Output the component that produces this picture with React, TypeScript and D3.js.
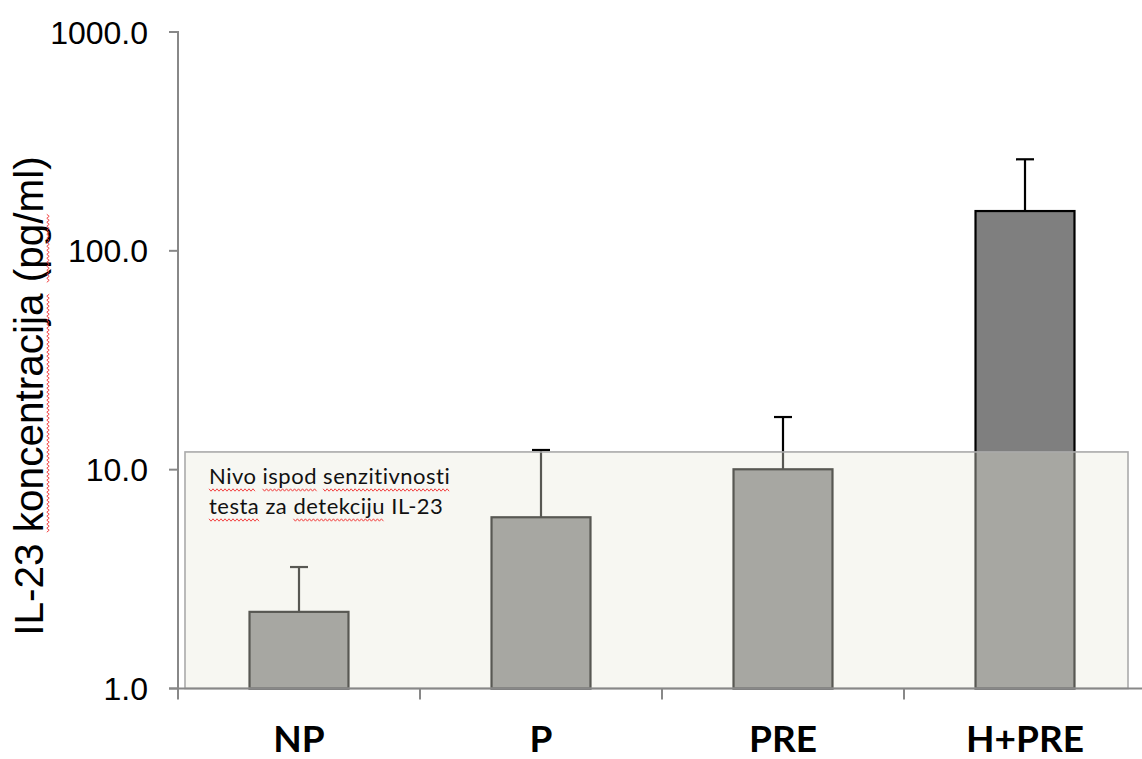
import React, { useEffect, useRef } from "react";
import * as d3 from "d3";

// IL-23 concentration per group (pg/ml), mean and upper error value
const categories = ["NP", "P", "PRE", "H+PRE"];
const means = [2.24, 6.06, 10.04, 152];
const upperErrors = [3.59, 12.3, 17.4, 262];
const yTicks = [1, 10, 100, 1000];
const detectionLimit = 12.05;
const yLabel = "IL-23 koncentracija (pg/ml)";
const noteLines = ["Nivo ispod senzitivnosti", "testa za detekciju IL-23"];

const W = 1142;
const H = 759;

function squiggle(x1: number, x2: number, y: number) {
  const pts: [number, number][] = [];
  const step = 2;
  let up = true;
  for (let x = x1; x <= x2; x += step) {
    pts.push([x, y + (up ? -1.2 : 1.2)]);
    up = !up;
  }
  return d3.line()(pts) || "";
}

export default function App() {
  const ref = useRef<SVGSVGElement>(null);

  useEffect(() => {
    const svg = d3.select(ref.current);
    svg.selectAll("*").remove();

    const axisLeft = 178;
    const x = d3
      .scaleBand<string>()
      .domain(categories)
      .range([axisLeft, 1146])
      .paddingInner(0.591)
      .paddingOuter(0.2955);
    const y = d3.scaleLog().domain([1, 1000]).range([688.5, 32]);
    const step = x.step();
    const base = y(1);

    // bars
    svg
      .append("g")
      .selectAll("rect")
      .data(categories)
      .join("rect")
      .attr("x", (d) => x(d)!)
      .attr("width", x.bandwidth())
      .attr("y", (_, i) => y(means[i]))
      .attr("height", (_, i) => base - y(means[i]))
      .attr("fill", "#7f7f7f")
      .attr("stroke", "#000")
      .attr("stroke-width", 2.2);

    // upper error whiskers
    const err = svg.append("g").attr("stroke", "#000").attr("stroke-width", 2.2);
    categories.forEach((c, i) => {
      const cx = x(c)! + x.bandwidth() / 2;
      err
        .append("line")
        .attr("x1", cx)
        .attr("x2", cx)
        .attr("y1", y(means[i]))
        .attr("y2", y(upperErrors[i]));
      err
        .append("line")
        .attr("x1", cx - 9)
        .attr("x2", cx + 9)
        .attr("y1", y(upperErrors[i]))
        .attr("y2", y(upperErrors[i]));
    });

    // translucent band for the detection limit
    const boxTop = y(detectionLimit);
    svg
      .append("rect")
      .attr("x", 185)
      .attr("y", boxTop)
      .attr("width", 1128 - 185)
      .attr("height", base - boxTop)
      .attr("fill", "rgb(234,234,220)")
      .attr("fill-opacity", 0.375)
      .attr("stroke", "#aaa")
      .attr("stroke-width", 1.6);

    // note text inside the band
    const note = svg
      .append("g")
      .attr("font-family", "Lato, 'Open Sans', sans-serif")
      .attr("font-size", 22)
      .attr("letter-spacing", 0.5)
      .attr("fill", "#111");
    const underlined = [
      [true, true, true],
      [true, false, true, false],
    ];
    noteLines.forEach((line, li) => {
      const by = 484 + li * 30;
      const t = note.append("text").attr("x", 209).attr("y", by).text(line);
      const node = t.node() as SVGTextElement;
      const words = line.split(" ");
      let pos = 0;
      words.forEach((w, wi) => {
        if (underlined[li][wi]) {
          try {
            const sx = node.getStartPositionOfChar(pos).x;
            const ex = node.getEndPositionOfChar(pos + w.length - 1).x;
            note
              .append("path")
              .attr("d", squiggle(sx, ex, by + 6))
              .attr("fill", "none")
              .attr("stroke", "#f03030")
              .attr("stroke-width", 0.9);
          } catch (e) {
            /* measurement unavailable */
          }
        }
        pos += w.length + 1;
      });
    });

    // axes
    const axis = svg.append("g").attr("stroke", "#888").attr("stroke-width", 2);
    axis.append("line").attr("x1", axisLeft).attr("x2", axisLeft).attr("y1", 31).attr("y2", base + 11);
    axis.append("line").attr("x1", axisLeft - 9).attr("x2", W).attr("y1", base).attr("y2", base);
    yTicks.forEach((t) => {
      axis.append("line").attr("x1", axisLeft - 9).attr("x2", axisLeft).attr("y1", y(t)).attr("y2", y(t));
    });
    for (let k = 1; k < categories.length; k++) {
      const tx = axisLeft + k * step;
      axis.append("line").attr("x1", tx).attr("x2", tx).attr("y1", base).attr("y2", base + 11);
    }

    // y tick labels
    svg
      .append("g")
      .attr("font-family", "'Liberation Sans', Arial, sans-serif")
      .attr("font-size", 32)
      .attr("text-anchor", "end")
      .attr("fill", "#000")
      .selectAll("text")
      .data(yTicks)
      .join("text")
      .attr("x", 148)
      .attr("y", (d) => y(d))
      .attr("dy", "0.36em")
      .text((d) => d3.format(".1f")(d));

    // category labels
    svg
      .append("g")
      .attr("font-family", "Lato, 'Open Sans', sans-serif")
      .attr("font-weight", 700)
      .attr("font-size", 37)
      .attr("text-anchor", "middle")
      .attr("fill", "#000")
      .selectAll("text")
      .data(categories)
      .join("text")
      .attr("x", (d) => x(d)! + x.bandwidth() / 2)
      .attr("y", 752)
      .text((d) => d);

    // y-axis title
    const yt = svg
      .append("text")
      .attr("transform", "translate(43,396) rotate(-90)")
      .attr("text-anchor", "middle")
      .attr("font-family", "'Liberation Sans', Arial, sans-serif")
      .attr("font-size", 40.5)
      .attr("fill", "#000")
      .text(yLabel);
    try {
      const node = yt.node() as SVGTextElement;
      const marks: [number, number][] = [
        [6, 18], // koncentracija
        [20, 23], // (pg
      ];
      const g = svg.append("g").attr("transform", "translate(43,396) rotate(-90)");
      marks.forEach(([a, b]) => {
        const s = node.getStartPositionOfChar(a).x;
        const e = node.getEndPositionOfChar(b).x;
        g.append("path")
          .attr("d", squiggle(s, e, 5))
          .attr("fill", "none")
          .attr("stroke", "#f03030")
          .attr("stroke-width", 0.9);
      });
    } catch (e) {
      /* measurement unavailable */
    }
  }, []);

  return (
    <svg
      ref={ref}
      width={W}
      height={H}
      style={{ display: "block", position: "absolute", left: 0, top: 0, background: "#fff" }}
    />
  );
}
